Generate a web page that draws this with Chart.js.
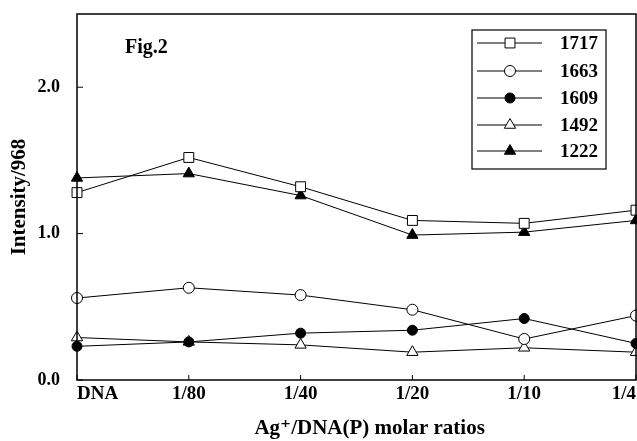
<!DOCTYPE html>
<html>
<head>
<meta charset="utf-8">
<script src="https://cdn.jsdelivr.net/npm/chart.js@4"></script>
<style>
  html, body { margin: 0; padding: 0; background: #fff; overflow: hidden; }
  #wrap { width: 700px; height: 441px; }
</style>
</head>
<body>
<div id="wrap"><canvas id="figCanvas" width="700" height="441"></canvas></div>
<script>
// categories (Ag+/DNA(P) ratios)
var ratios = ['DNA', '1/80', '1/40', '1/20', '1/10', '1/4'];
var yTicks = [0, 1, 2];

// band intensities relative to 968 cm-1
var band1717 = [1.28, 1.52, 1.32, 1.09, 1.07, 1.16];
var band1663 = [0.56, 0.63, 0.58, 0.48, 0.28, 0.44];
var band1609 = [0.23, 0.26, 0.32, 0.34, 0.42, 0.25];
var band1492 = [0.29, 0.26, 0.24, 0.19, 0.22, 0.19];
var band1222 = [1.38, 1.41, 1.26, 0.99, 1.01, 1.09];

var serif = '"Liberation Serif", "DejaVu Serif", serif';

function series(label, data, style, filled, r) {
    return {
        label: label,
        data: data,
        borderColor: '#000',
        borderWidth: 1,
        pointStyle: style,
        pointRadius: r,
        pointHoverRadius: r,
        pointBorderWidth: 1,
        pointBorderColor: '#000',
        pointBackgroundColor: filled ? '#000' : '#fff',
        tension: 0
    };
}

var datasets = [
    series('1717', band1717, 'rect', false, 7),
    series('1663', band1663, 'circle', false, 5.5),
    series('1609', band1609, 'circle', true, 5),
    series('1492', band1492, 'triangle', false, 6.5),
    series('1222', band1222, 'triangle', true, 6.5)
];

// frame, inward ticks, figure label and boxed legend
var extras = {
    id: 'extras',
    afterDraw: function (chart) {
        var ctx = chart.ctx;
        var a = chart.chartArea;
        var xs = chart.scales.x;
        var ys = chart.scales.y;
        ctx.save();
        ctx.strokeStyle = '#000';
        ctx.lineWidth = 1.5;
        ctx.strokeRect(a.left, a.top, a.right - a.left, a.bottom - a.top);

        ctx.lineWidth = 1;
        xs.ticks.forEach(function (t, i) {
            var px = xs.getPixelForTick(i);
            ctx.beginPath();
            ctx.moveTo(px, a.bottom);
            ctx.lineTo(px, a.bottom - 5);
            ctx.stroke();
        });
        ys.ticks.forEach(function (t, i) {
            var py = ys.getPixelForTick(i);
            ctx.beginPath();
            ctx.moveTo(a.left, py);
            ctx.lineTo(a.left + 6, py);
            ctx.stroke();
        });

        ctx.fillStyle = '#000';
        ctx.font = 'bold 20px ' + serif;
        ctx.textBaseline = 'middle';
        ctx.textAlign = 'left';
        ctx.fillText('Fig.2', 125, 48);

        // legend box
        ctx.lineWidth = 1.2;
        ctx.strokeRect(472, 30, 134, 139);
        var rowY = [43, 71, 98, 125, 151];
        chart.data.datasets.forEach(function (ds, i) {
            var y = rowY[i];
            ctx.lineWidth = 1;
            ctx.strokeStyle = '#000';
            ctx.beginPath();
            ctx.moveTo(477, y);
            ctx.lineTo(542, y);
            ctx.stroke();
            ctx.fillStyle = ds.pointBackgroundColor;
            Chart.helpers.drawPoint(ctx, {
                pointStyle: ds.pointStyle,
                radius: ds.pointRadius,
                borderWidth: 1
            }, 510, y);
            ctx.fillStyle = '#000';
            ctx.font = 'bold 19px ' + serif;
            ctx.fillText(ds.label, 560, y + 1);
        });
        ctx.restore();
    }
};

new Chart(document.getElementById('figCanvas'), {
    type: 'line',
    data: { labels: ratios, datasets: datasets },
    options: {
        responsive: false,
        animation: false,
        layout: { padding: { left: 0, right: 64, top: 14, bottom: 0 } },
        plugins: { legend: { display: false }, tooltip: { enabled: false } },
        scales: {
            x: {
                offset: false,
                grid: { display: false },
                border: { display: false },
                ticks: { color: '#000', padding: -5, maxRotation: 0, autoSkip: false, align: 'inner',
                         font: { family: serif, size: 19, weight: 'bold' } },
                title: { display: true, text: '\u2002\u2002 Ag\u207A/DNA(P) molar ratios', color: '#000',
                         font: { family: serif, size: 21, weight: 'bold' },
                         padding: { top: 4, bottom: 0 } },
                afterFit: function (s) { s.height = 61; }
            },
            y: {
                min: 0,
                max: 2.5,
                grid: { display: false },
                border: { display: false },
                afterBuildTicks: function (s) {
                    s.ticks = yTicks.map(function (v) { return { value: v }; });
                },
                ticks: { color: '#000', padding: 9,
                         callback: function (v) { return Number(v).toFixed(1); },
                         font: { family: serif, size: 18, weight: 'bold' } },
                title: { display: true, text: 'Intensity/968', color: '#000',
                         font: { family: serif, size: 21, weight: 'bold' },
                         padding: { top: 7, bottom: 0 } },
                afterFit: function (s) { s.width = 77; s.paddingTop = 0; s.paddingBottom = 0; }
            }
        }
    },
    plugins: [extras]
});
</script>
</body>
</html>
